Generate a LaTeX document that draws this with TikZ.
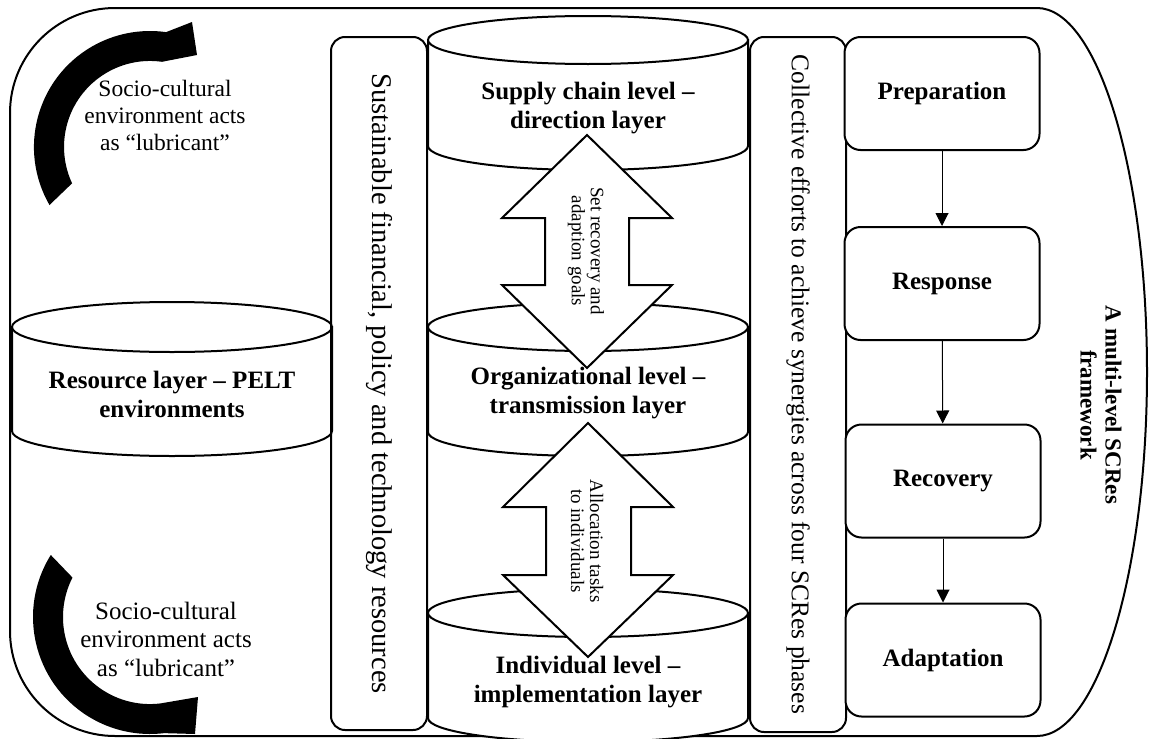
\documentclass[tikz,border=0pt]{standalone}
\usepackage{fontspec}
\setmainfont{Liberation Serif}
\usetikzlibrary{arrows.meta}

% drum (cylinder) standing upright: centre x, half width, top y, bottom y, ellipse half height
\newcommand\drumshape[5]{%
  \filldraw[outline,fill=white] ({#1-#2},#3) -- ({#1-#2},#4)
    arc[start angle=180,end angle=0,x radius=#2,y radius=#5] -- ({#1+#2},#3) -- cycle;
  \filldraw[outline,fill=white] (#1,#3) ellipse[x radius=#2,y radius=#5];
}

\begin{document}
\begin{tikzpicture}[x=1pt,y=-1pt,
  outline/.style={draw=black,line width=2pt,line join=miter},
  bartext/.style={draw,line width=2pt,rounded corners=14pt,rotate=-90,
    minimum height=96pt,inner sep=0pt},
  layertext/.style={align=center,inner sep=0pt,font=\fontsize{25}{29}\selectfont\bfseries},
  arrowtext/.style={align=center,inner sep=0pt,rotate=-90,font=\fontsize{19}{19}\selectfont},
  phase/.style={draw,line width=2pt,rounded corners=16pt,minimum width=195pt,
    minimum height=113pt,inner sep=0pt,fill=white,font=\fontsize{25}{29}\selectfont\bfseries},
  flow/.style={-{Triangle[length=13pt,width=13pt]},line width=1pt},
  note/.style={align=center,inner sep=0pt},
]
\useasboundingbox (0,0) rectangle (1149,739);

% outer frame: rounded on the left, half ellipse on the right
\draw[outline] (115,8) -- (1037,8)
  arc[start angle=-90,end angle=90,x radius=110,y radius=364]
  -- (115,736) arc[start angle=90,end angle=180,radius=105]
  -- (10,113) arc[start angle=180,end angle=270,radius=105] -- cycle;

% socio-cultural lubricant arrows (angles grow clockwise, y points down)
\fill (49.5,205) arc[start angle=150,end angle=278,radius=116]
  -- (192,22) -- (197,55) -- (162,61.8)
  arc[start angle=278,end angle=155,radius=86] -- cycle;
\fill (50.8,555) arc[start angle=212,end angle=83,radius=117]
  -- (195,734) -- (198,697) -- (160.6,703.4)
  arc[start angle=83,end angle=207,radius=87] -- cycle;

\node[note,font=\fontsize{23.5}{27}\selectfont] (socioTop) at (165,115)
  {Socio-cultural\\environment acts\\as “lubricant”};
\node[note,font=\fontsize{25}{28.5}\selectfont] (socioBot) at (166,639)
  {Socio-cultural\\environment acts\\as “lubricant”};

% resource layer
\drumshape{172}{160}{327}{431}{25}
\node[layertext] (resource) at (172,394) {Resource layer – PELT\\environments};

% three organisational levels
\drumshape{588}{160}{40}{146}{24}
\drumshape{588}{160}{327}{432}{24}
\drumshape{588}{160}{613}{718}{24}
\node[layertext] (supply) at (588,108) {Supply chain level –\\direction layer};
\node[layertext] (organization) at (588,393) {Organizational level –\\transmission layer};
\node[layertext] (individual) at (588,682) {Individual level –\\implementation layer};

% side bars
\node[bartext,minimum width=693pt,font=\fontsize{28.5}{32}\selectfont] (resources) at (379,383.5)
  {Sustainable financial, policy and technology resources};
\node[bartext,minimum width=695pt,font=\fontsize{25.5}{29}\selectfont] (efforts) at (798,384.5)
  {Collective efforts to achieve synergies across four SCRes phases};

% double arrows between levels
\filldraw[outline,fill=white] (587,135) -- (672,218) -- (629,218) -- (629,285) -- (672,285)
  -- (587,368) -- (502,285) -- (545,285) -- (545,218) -- (502,218) -- cycle;
\node[arrowtext] (goals) at (586,251) {Set recovery and\\adaption goals};
\filldraw[outline,fill=white] (588,423) -- (673,507) -- (631,507) -- (631,575) -- (673,575)
  -- (588,657) -- (503,575) -- (546,575) -- (546,507) -- (503,507) -- cycle;
\node[arrowtext] (tasks) at (587,541) {Allocation tasks\\to individuals};

% SCRes phases
\node[phase] (prep) at (942,93.5) {Preparation};
\node[phase] (resp) at (942,283.5) {Response};
\node[phase] (recov) at (943,481) {Recovery};
\node[phase] (adapt) at (943,660) {Adaptation};
\draw[flow] (prep) -- (resp);
\draw[flow] (resp) -- (recov);
\draw[flow] (recov) -- (adapt);

\node[note,rotate=-90,font=\fontsize{23}{25}\selectfont\bfseries] (title) at (1101,405)
  {A multi-level SCRes\\framework};
\end{tikzpicture}
\end{document}
